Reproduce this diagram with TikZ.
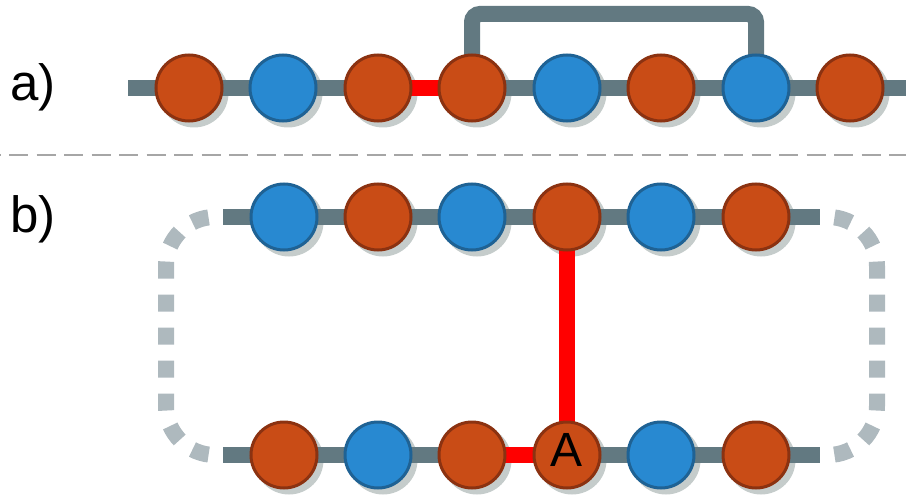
\documentclass[tikz,border=0pt]{standalone}
\usepackage{fontspec}
\setmainfont{Liberation Sans}
\usetikzlibrary{calc}

\definecolor{beadorange}{HTML}{C94C16}
\definecolor{beadorangeline}{HTML}{8B3211}
\definecolor{beadblue}{HTML}{2889D1}
\definecolor{beadblueline}{HTML}{1F6294}
\definecolor{chaingray}{HTML}{627981}
\definecolor{loopgray}{HTML}{AEB9BE}
\definecolor{shadowgray}{HTML}{C5CCCB}
\definecolor{sepgray}{HTML}{A6A6A6}

\pgfdeclarelayer{shadows}
\pgfdeclarelayer{chains}
\pgfsetlayers{shadows,chains,main}

\tikzset{
  bead/.style={circle, minimum size=66pt, inner sep=0pt, line width=3pt},
  obead/.style={bead, fill=beadorange, draw=beadorangeline},
  bbead/.style={bead, fill=beadblue, draw=beadblueline},
  chain/.style={draw=chaingray, line width=16pt},
  link/.style={draw=red, line width=16pt},
  loopline/.style={draw=loopgray, line width=16pt, dash pattern=on 17pt off 16pt, dash phase=26.5pt},
  sepline/.style={draw=sepgray, line width=2pt, dash pattern=on 19pt off 8.5pt, dash phase=18.5pt},
  lbl/.style={inner sep=0pt, anchor=base west, font=\fontsize{51}{51}\selectfont},
}

\begin{document}
\begin{tikzpicture}[x=1pt, y=-1pt]
    \useasboundingbox (0,0) rectangle (906,495);
    % labels
    \node[lbl] (la) at (10,100) {a)};
    \node[lbl] (lb) at (10,232) {b)};
    % a) open chain
    \node[obead] (a1) at (189,88) {};
    \node[bbead] (a2) at (283,88) {};
    \node[obead] (a3) at (378,88) {};
    \node[obead] (a4) at (472,88) {};
    \node[bbead] (a5) at (567,88) {};
    \node[obead] (a6) at (661,88) {};
    \node[bbead] (a7) at (756,88) {};
    \node[obead] (a8) at (850,88) {};
    \coordinate (aL) at (128,88);
    \coordinate (aR) at (906,88);
    \coordinate (bridge) at (614,14);
    % b) ring, upper part
    \node[bbead] (t1) at (284,217) {};
    \node[obead] (t2) at (378,217) {};
    \node[bbead] (t3) at (472,217) {};
    \node[obead] (t4) at (567,217) {};
    \node[bbead] (t5) at (661,217) {};
    \node[obead] (t6) at (756,217) {};
    \coordinate (tL) at (223,217);
    \coordinate (tR) at (820,217);
    % b) ring, lower part
    \node[obead] (u1) at (284,455) {};
    \node[bbead] (u2) at (378,455) {};
    \node[obead] (u3) at (472,455) {};
    \node[obead, font=\fontsize{48}{48}\selectfont, text depth=10pt] (u4) at (567,455) {A};
    \node[bbead] (u5) at (661,455) {};
    \node[obead] (u6) at (756,455) {};
    \coordinate (uL) at (223,455);
    \coordinate (uR) at (820,455);
    % separator
    \coordinate (sepL) at (0,155);
    \coordinate (sepR) at (906,155);
    \draw[sepline] (sepL) -- (sepR);

    \begin{pgfonlayer}{chains}
        \draw[chain] (aL) -- (aR);
        \draw[chain, rounded corners=8pt] (a4.center) |- (bridge) -| (a7.center);
        \draw[link] (a3.center) -- (a4.center);
        \draw[chain] (tL) -- (tR);
        \draw[chain] (uL) -- (uR);
        \draw[link] (u3.center) -- (u4.center);
        \draw[link] (t4.center) -- (u4.center);
        \draw[loopline, rounded corners=49pt] ($(tL)+(-8,0)$) -| ($(tL)!0.5!(uL)+(-57,0)$) |- ($(uL)+(-8,0)$);
        \draw[loopline, rounded corners=49pt] ($(tR)+(8,0)$) -| ($(tR)!0.5!(uR)+(57,0)$) |- ($(uR)+(8,0)$);
    \end{pgfonlayer}

    \begin{pgfonlayer}{shadows}
        \foreach \b in {a1,a2,a3,a4,a5,a6,a7,a8,t1,t2,t3,t4,t5,t6,u1,u2,u3,u4,u5,u6}
            \fill[shadowgray] ($(\b)+(5,5)$) circle (34.5pt);
    \end{pgfonlayer}
\end{tikzpicture}
\end{document}
